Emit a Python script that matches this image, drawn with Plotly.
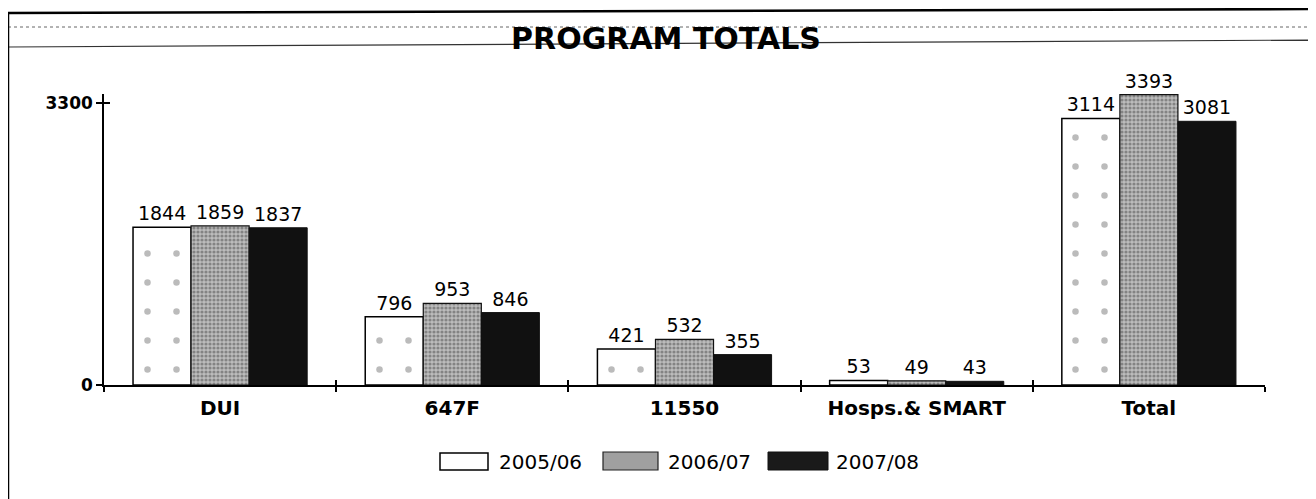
import plotly.graph_objects as go

categories = ["DUI", "647F", "11550", "Hosps.& SMART", "Total"]
series_names = ["2005/06", "2006/07", "2007/08"]
values_2005 = [1844, 796, 421, 53, 3114]
values_2006 = [1859, 953, 532, 49, 3393]
values_2007 = [1837, 846, 355, 43, 3081]
y_tick_vals = [0, 3300]
y_range_max = 3400
chart_title = "PROGRAM TOTALS"

# page has an 8px body margin; figure coords = page coords - 8
OFF = 8
W, H = 1308, 491
L, R, T, B = 96, 51, 86, 114
pw = W - L - R
ph = H - T - B


def px(x):
    """page x pixel -> paper coordinate"""
    return (x - OFF - L) / pw


def py(y):
    """page y pixel -> paper coordinate"""
    return (H - B - (y - OFF)) / ph


FONT = "DejaVu Sans"

fig = go.Figure()
styles = [
    dict(color="white", line=dict(color="black", width=1.5),
         pattern=dict(shape=".", fgcolor="#777777", bgcolor="white", size=29, solidity=0.04)),
    dict(color="#a0a0a0", line=dict(color="#111111", width=1.2),
         pattern=dict(shape=".", fgcolor="#4a4a4a", bgcolor="#bcbcbc", size=4, solidity=0.5)),
    dict(color="#111111", line=dict(color="#111111", width=1)),
]
for name, vals, st in zip(series_names, [values_2005, values_2006, values_2007], styles):
    fig.add_trace(go.Bar(
        x=categories, y=vals, name=name, marker=st,
        text=[str(v) for v in vals], textposition="outside",
        textfont=dict(family=FONT, size=19, color="black"),
        cliponaxis=False, showlegend=False, hoverinfo="x+y+name",
    ))

# invisible trace carrying the overlay axes (inside half of crossing ticks)
fig.add_trace(go.Scatter(x=categories, y=[0] * len(categories), xaxis="x2", yaxis="y2",
                         mode="markers", marker=dict(opacity=0), hoverinfo="skip", showlegend=False))

shapes = [
    # scanned form lines / frame
    dict(type="line", xref="paper", yref="paper", x0=px(8), y0=py(27), x1=px(1316), y1=py(27),
         line=dict(color="#666666", width=1, dash="dot"), layer="below"),
    dict(type="line", xref="paper", yref="paper", x0=px(8), y0=py(47), x1=px(1316), y1=py(40),
         line=dict(color="#333333", width=1.2), layer="below"),
    dict(type="line", xref="paper", yref="paper", x0=px(8), y0=py(13), x1=px(1316), y1=py(9),
         line=dict(color="black", width=2.5), layer="below"),
    dict(type="line", xref="paper", yref="paper", x0=px(8), y0=py(13), x1=px(8), y1=py(499),
         line=dict(color="black", width=2.5), layer="below"),
    # legend swatches
    dict(type="rect", xref="paper", yref="paper", x0=px(440), y0=py(453), x1=px(488), y1=py(470),
         fillcolor="white", line=dict(color="black", width=1.5)),
    dict(type="rect", xref="paper", yref="paper", x0=px(603), y0=py(452), x1=px(658), y1=py(470),
         fillcolor="#a0a0a0", line=dict(color="#222222", width=1.2)),
    dict(type="rect", xref="paper", yref="paper", x0=px(768), y0=py(452), x1=px(828), y1=py(470),
         fillcolor="#1a1a1a", line=dict(color="#111111", width=1)),
]

annotations = []
for name, xpix in zip(series_names, [497, 666, 834]):
    annotations.append(dict(xref="paper", yref="paper", x=px(xpix), y=py(462), text=name,
                            showarrow=False, xanchor="left", yanchor="middle",
                            font=dict(family=FONT, size=20, color="black")))

fig.update_layout(
    width=W, height=H,
    margin=dict(l=L, r=R, t=T, b=B, pad=0),
    paper_bgcolor="white", plot_bgcolor="white",
    barmode="group", bargap=0.25, bargroupgap=0,
    title=dict(text="<b>" + chart_title + "</b>", xref="container", yref="container",
               x=(666 - OFF) / W, y=1 - (38 - OFF) / H, xanchor="center", yanchor="middle",
               font=dict(family=FONT, size=30, color="black")),
    xaxis=dict(type="category", categoryorder="array", categoryarray=categories,
               range=[-0.5, len(categories) - 0.5], showline=True, linecolor="black", linewidth=1.5,
               ticks="outside", ticklen=5, tickwidth=1.5, tickcolor="black", tickson="boundaries",
               ticklabelstandoff=4,
               tickfont=dict(family=FONT, size=20, color="black", weight="bold"),
               showgrid=False, zeroline=False, fixedrange=True),
    xaxis2=dict(type="category", categoryorder="array", categoryarray=categories, overlaying="x",
                anchor="y2", range=[-0.5, len(categories) - 0.5], showline=False,
                ticks="inside", ticklen=5, tickwidth=1.5, tickcolor="black", tickson="boundaries",
                showticklabels=False, showgrid=False, zeroline=False),
    yaxis=dict(range=[0, y_range_max], tickmode="array", tickvals=y_tick_vals, showline=True,
               linecolor="black", linewidth=1.5, ticks="outside", ticklen=6, tickwidth=1.5,
               tickcolor="black", tickfont=dict(family=FONT, size=17, color="black", weight="bold"),
               showgrid=False, zeroline=False, fixedrange=True),
    yaxis2=dict(range=[0, y_range_max], overlaying="y", anchor="x2", tickmode="array",
                tickvals=[y_tick_vals[-1]],
                ticks="inside", ticklen=6, tickwidth=1.5, tickcolor="black", showticklabels=False,
                showline=False, showgrid=False, zeroline=False),
    shapes=shapes,
    annotations=annotations,
    showlegend=False,
)

fig.write_html("out.html")
